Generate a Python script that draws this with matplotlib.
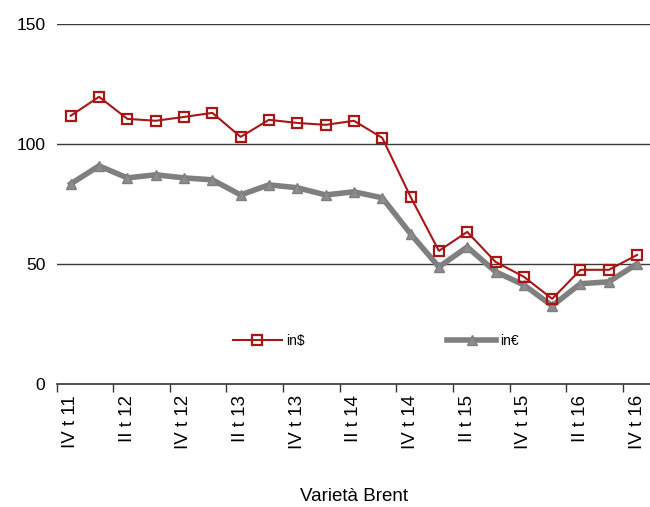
import numpy as np
import matplotlib.pyplot as plt

plt.rcParams['font.family'] = ['Liberation Sans', 'DejaVu Sans']

quarters = ["IV t 11", "I t 12", "II t 12", "III t 12", "IV t 12",
            "I t 13", "II t 13", "III t 13", "IV t 13",
            "I t 14", "II t 14", "III t 14", "IV t 14",
            "I t 15", "II t 15", "III t 15", "IV t 15",
            "I t 16", "II t 16", "III t 16", "IV t 16"]

brent_usd = [111.7, 119.6, 110.4, 109.6, 111.2, 112.9, 102.9, 110.0, 108.7, 107.9,
             109.6, 102.5, 77.9, 55.4, 63.3, 50.8, 44.6, 35.4, 47.5, 47.5, 53.7]
brent_eur = [83.3, 90.8, 85.8, 87.1, 85.8, 85.0, 78.7, 82.9, 81.7, 78.7,
             80.0, 77.5, 62.5, 48.7, 57.0, 46.7, 41.2, 32.5, 41.7, 42.5, 50.0]

x = np.arange(len(quarters))

fig = plt.figure(figsize=(6.5, 5.07), dpi=100)
ax = fig.add_axes([0.087, 0.243, 0.915, 0.71])

for v in [50, 100, 150]:
    ax.axhline(v, color="#3a3a3a", lw=1.0, zorder=1)

ax.plot(x, brent_usd, color="#a81717", lw=1.5, marker="s", markersize=6.5,
        markerfacecolor="none", markeredgecolor="#a81717", markeredgewidth=1.6,
        label="in$", zorder=3)
ax.plot(x, brent_eur, color="#7f7f7f", lw=4, marker="^", markersize=6.5,
        markerfacecolor="#8c8c8c", markeredgecolor="#7f7f7f",
        label="in€", zorder=2)

ax.set_xlim(-0.5, len(quarters) - 0.5)
ax.set_ylim(0, 150)
ax.set_yticks([0, 50, 100, 150])
ax.tick_params(axis="y", length=0, labelsize=12.5, pad=8)

# tick marks sit on category boundaries, labels on every other quarter
ax.set_xticks(x[::2] - 0.5)
ax.set_xticklabels([])
ax.tick_params(axis="x", which="major", length=6, width=1, color="#333333", direction="out")
ax.set_xticks(x[::2], minor=True)
ax.set_xticklabels(quarters[::2], minor=True, rotation=90, fontsize=13.5)
ax.tick_params(axis="x", which="minor", length=0, pad=8)

for s in ["top", "right", "left"]:
    ax.spines[s].set_visible(False)
ax.spines["bottom"].set_color("#333333")
ax.spines["bottom"].set_linewidth(1.2)

ax.set_xlabel("Varietà Brent", fontsize=13.5, labelpad=28)

ax.legend(loc="center", bbox_to_anchor=(0.537, 0.12), ncol=2, frameon=False,
          fontsize=10, columnspacing=10.3, handlelength=3.5, handletextpad=0.3)

fig.savefig("out.png", dpi=100)
